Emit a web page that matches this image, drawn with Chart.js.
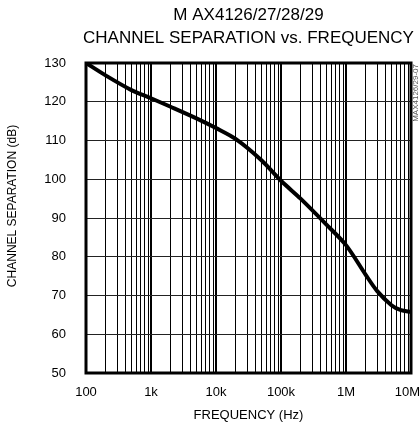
<!DOCTYPE html>
<html>
<head>
<meta charset="utf-8">
<script src="https://cdn.jsdelivr.net/npm/chart.js@4/dist/chart.umd.min.js"></script>
<style>
  html, body { margin:0; padding:0; background:#fff; }
  #wrap { width:420px; height:429px; }
</style>
</head>
<body>
<div id="wrap"><canvas id="c" width="420" height="429"></canvas></div>
<script>
// values
const freqHz = [100, 200, 500, 1000, 2000, 5000, 10000, 20000, 50000, 100000, 200000, 500000, 1000000, 2000000, 3000000, 5000000, 7000000, 10000000];
const sepDb  = [130, 126.8, 123, 120.9, 118.7, 115.7, 113.2, 110.4, 104.9, 99.6, 95, 88.3, 83, 75.4, 71.2, 67.5, 66.2, 65.8];

const decades = [100, 1000, 10000, 100000, 1000000, 10000000];
const decadeLabels = ['100', '1k', '10k', '100k', '1M', '10M  '];
const yTicks = [50, 60, 70, 80, 90, 100, 110, 120, 130];

const titleLines = ['M AX4126/27/28/29', 'CHANNEL SEPARATION vs. FREQUENCY'];
const yTitle = 'CHANNEL SEPARATION (dB)';
const FONT = '"Liberation Sans", Arial, sans-serif';

const isDecade = v => decades.some(d => Math.abs(d - v) < d * 1e-6);

const frame = {
  id: 'frame',
  afterDatasetsDraw(chart) {
    const { ctx, chartArea: a } = chart;
    ctx.save();
    ctx.strokeStyle = '#000';
    ctx.lineWidth = 3;
    ctx.strokeRect(a.left, a.top, a.right - a.left, a.bottom - a.top);
    ctx.restore();
  },
  afterDraw(chart) {
    const { ctx, chartArea: a } = chart;
    const cx = (a.left + a.right) / 2;
    ctx.save();
    ctx.fillStyle = '#000';
    ctx.textAlign = 'center';
    ctx.textBaseline = 'middle';
    ctx.font = '17px ' + FONT;
    ctx.fillText(titleLines[0], cx, 15);
    ctx.fillText(titleLines[1], cx, 38);
    ctx.restore();

    // y axis title, a bit above the plot centre as in the original
    ctx.save();
    ctx.translate(13, 206);
    ctx.rotate(-Math.PI / 2);
    ctx.textAlign = 'center';
    ctx.textBaseline = 'middle';
    ctx.font = '12px ' + FONT;
    ctx.fillStyle = '#000';
    ctx.fillText(yTitle, 0, 0);
    ctx.restore();

    // part number tag on the right edge
    ctx.save();
    ctx.translate(416, 64);
    ctx.rotate(-Math.PI / 2);
    ctx.textAlign = 'right';
    ctx.textBaseline = 'middle';
    ctx.font = '8px ' + FONT;
    ctx.fillStyle = '#555';
    ctx.fillText('MAX4126/29-07', 0, 0);
    ctx.restore();
  }
};

new Chart(document.getElementById('c'), {
  type: 'line',
  data: {
    datasets: [{
      data: freqHz.map((f, i) => ({ x: f, y: sepDb[i] })),
      borderColor: '#000',
      borderWidth: 4,
      pointRadius: 0,
      tension: 0.3,
      fill: false
    }]
  },
  options: {
    responsive: false,
    animation: false,
    layout: { padding: { top: 63, right: 9, left: 0, bottom: 0 } },
    plugins: { legend: { display: false }, tooltip: { enabled: false } },
    scales: {
      x: {
        type: 'logarithmic',
        min: 100, max: 10000000,
        afterBuildTicks(scale) {
          const t = [];
          decades.slice(0, -1).forEach(d => { for (let m = 1; m <= 9; m++) t.push({ value: m * d }); });
          t.push({ value: 10000000 });
          scale.ticks = t;
        },
        afterFit(scale) { scale.height = 56; scale.paddingLeft = 0; scale.paddingRight = 0; },
        grid: {
          color: '#000',
          lineWidth: c => (c.tick && isDecade(c.tick.value)) ? 2 : 1,
          drawTicks: false
        },
        border: { display: false },
        ticks: {
          autoSkip: false, maxRotation: 0, padding: 12,
          color: '#000', font: { family: FONT, size: 13 },
          callback: v => { const i = decades.findIndex(d => Math.abs(d - v) < d * 1e-6); return i >= 0 ? decadeLabels[i] : ''; }
        },
        title: { display: true, text: 'FREQUENCY (Hz)', color: '#000', font: { family: FONT, size: 13 }, padding: { top: 0, bottom: 6 } }
      },
      y: {
        min: 50, max: 130,
        afterBuildTicks(scale) { scale.ticks = yTicks.map(v => ({ value: v })); },
        afterFit(scale) { scale.width = 86; scale.paddingTop = 0; scale.paddingBottom = 0; },
        grid: { color: '#222', lineWidth: 1, drawTicks: false },
        border: { display: false },
        ticks: { padding: 20, color: '#000', font: { family: FONT, size: 13 } }
      }
    }
  },
  plugins: [frame]
});
</script>
</body>
</html>
